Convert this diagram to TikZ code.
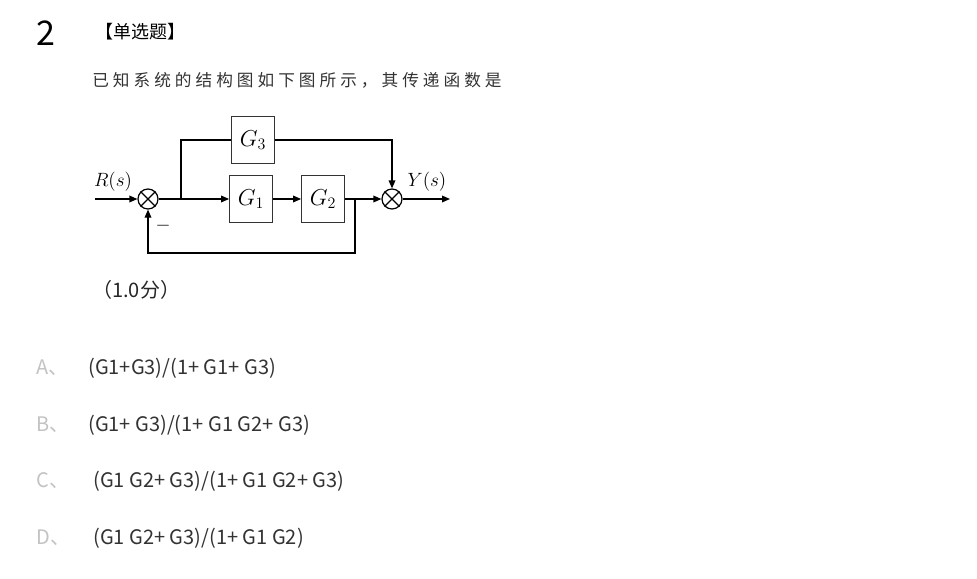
\documentclass[tikz,border=0pt]{standalone}
\usepackage{fontspec}
\setmainfont{Noto Sans CJK SC}
\newfontfamily\espaciado[LetterSpace=24]{Noto Sans CJK SC}
\usetikzlibrary{arrows.meta,positioning,calc}
\definecolor{gristexto}{RGB}{51,51,51}
\definecolor{grisletra}{RGB}{195,195,195}
\tikzset{
  bloque/.style={rectangle,draw=black!80,line width=0.9pt,minimum width=32pt,
    minimum height=35pt,inner sep=0pt,font=\fontsize{16.5}{18}\selectfont},
  suma/.style={circle,draw,line width=0.9pt,minimum size=15pt,inner sep=0pt},
  flecha/.style={-{Triangle[length=6pt,width=5pt]},line width=0.9pt},
  linea/.style={line width=0.9pt},
  senal/.style={font=\fontsize{14}{16}\selectfont,inner sep=0pt},
  opcion/.style={anchor=base west,font=\fontsize{15}{17}\selectfont,text=gristexto,inner sep=0pt},
  letra/.style={opcion,text=grisletra},
}
\begin{document}
\begin{tikzpicture}[x=0.75pt,y=-0.75pt]
  \useasboundingbox[fill=white] (0,0) rectangle (977,578);
  % encabezado
  \node[anchor=base,font=\fontsize{25.5}{28}\selectfont,inner sep=0pt] (num) at (46,45) {2};
  \node[anchor=base west,font=\fontsize{13.5}{15}\selectfont,inner sep=0pt] (tipo) at (95,38) {【单选题】};
  \node[anchor=base west,font=\fontsize{12.5}{15}\espaciado,text=gristexto,inner sep=0pt] (enun) at (92,86)
    {已知系统的结构图如下图所示，其传递函数是};
  % diagrama
  \node[suma] (s1) at (148,199) {};
  \node[suma] (s2) at (392,199) {};
  \draw[linea] (s1.45) -- (s1.225) (s1.135) -- (s1.315);
  \draw[linea] (s2.45) -- (s2.225) (s2.135) -- (s2.315);
  \node[bloque] (g3) at (253,140) {$G_3$};
  \node[bloque] (g1) at (251,199) {$G_1$};
  \node[bloque] (g2) at (323,199) {$G_2$};
  \coordinate (ent) at (95,199);
  \coordinate (rama) at (181,199);
  \coordinate (rama2) at (355,199);
  \coordinate (abajo) at (355,253);
  \coordinate (sal) at (450,199);
  \draw[flecha] (ent) -- (s1);
  \draw[flecha] (s1) -- (g1);
  \draw[linea] (rama) |- (g3);
  \draw[flecha] (g3) -| (s2);
  \draw[flecha] (g1) -- (g2);
  \draw[flecha] (g2) -- (s2);
  \draw[flecha] (rama2) -- (abajo) -| (s1);
  \draw[flecha] (s2) -- (sal);
  \node[senal,anchor=base] (r) at (113,186) {$R(s)$};
  \node[senal,anchor=base] (y) at (427,186) {$Y(s)$};
  \node[senal] (menos) at (163,226) {$-$};
  % puntaje y opciones
  \node[opcion,text=black!85] (pts) at (92,297) {（1.0分）};
  \node[letra] (la) at (36,374) {A、};
  \node[letra] (lb) at (36,431) {B、};
  \node[letra] (lc) at (36,487) {C、};
  \node[letra] (ld) at (36,544) {D、};
  \node[opcion] (oa) at (88,374) {(G1+G3)/(1+ G1+ G3)};
  \node[opcion] (ob) at (88,431) {(G1+ G3)/(1+ G1 G2+ G3)};
  \node[opcion] (oc) at (93,487) {(G1 G2+ G3)/(1+ G1 G2+ G3)};
  \node[opcion] (od) at (93,544) {(G1 G2+ G3)/(1+ G1 G2)};
\end{tikzpicture}
\end{document}
